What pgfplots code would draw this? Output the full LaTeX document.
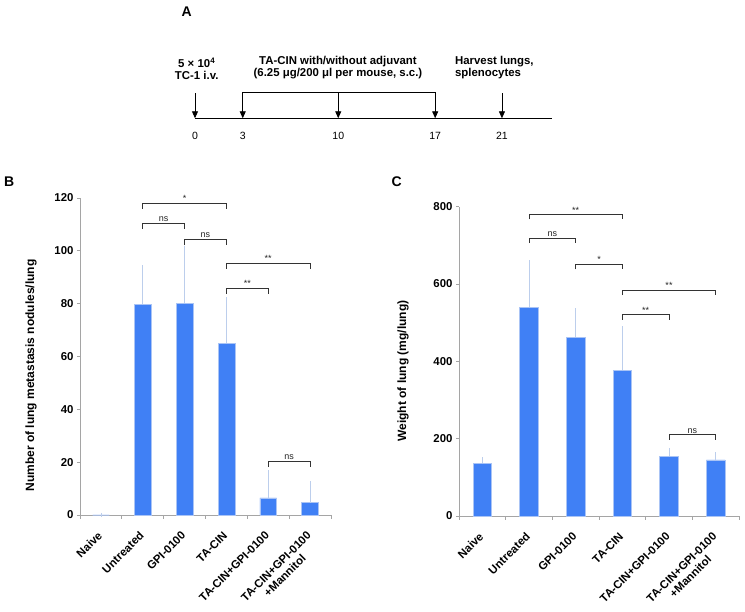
\documentclass[border=0pt]{standalone}
\usepackage{pgfplots}
\pgfplotsset{compat=1.18}
\usepackage{pgfplotstable}
\usepackage{fontspec}
\setmainfont{Liberation Sans}
\usetikzlibrary{arrows.meta}

\definecolor{barblue}{RGB}{64,128,245}
\definecolor{baredge}{RGB}{170,196,245}
\definecolor{errblue}{RGB}{188,206,236}
\definecolor{axisgray}{RGB}{165,165,165}

\newcommand{\tickfont}{\fontsize{11.4}{12.5}\selectfont\bfseries}
\newcommand{\sigfont}{\fontsize{9}{10}\selectfont}

% bracket: x1, x2, xmid, top, foot, label
\newcommand{\sigbar}[6]{%
  \draw[black!80, line width=0.7pt] (axis cs:#1,#5) -- (axis cs:#1,#4) -- (axis cs:#2,#4) -- (axis cs:#2,#5);
  \node[anchor=south, inner sep=1.2pt, font=\sigfont, black!85] at (axis cs:#3,#4) {#6};}

% panel B: lung metastasis nodules
\pgfplotstableread{
x y err
0 0 0
1 79.8 13.9
2 80.2 21.0
3 65.0 16.7
4 6.5 9.7
5 4.7 7.3
}\dataB

% panel C: lung weight
\pgfplotstableread{
x y err
0 136 11
1 540 116
2 462 70
3 377 109
4 155 16
5 145 15
}\dataC

\pgfplotsset{
  barchart/.style={
    scale only axis,
    clip=false,
    xmin=-0.5, xmax=5.5, ymin=0,
    axis x line=bottom, axis y line=left,
    axis line style={-, axisgray, line width=0.7pt},
    xtick={0,...,5},
    xticklabels={Naive, Untreated, GPI-0100, TA-CIN, TA-CIN+GPI-0100, {TA-CIN+GPI-0100\\+Mannitol}},
    minor xtick={-0.5,0.5,...,5.5},
    major x tick style={draw=none},
    minor x tick style={axisgray, line width=0.7pt},
    y tick style={axisgray, line width=0.7pt},
    tick align=outside,
    major tick length=3pt,
    minor tick length=4pt,
    xticklabel style={xshift=-4pt, yshift=-11pt, rotate=45, anchor=north east, align=center, font=\tickfont, inner sep=1pt},
    yticklabel style={font=\tickfont},
    /pgf/number format/assume math mode=true,
    ylabel style={font=\fontsize{12}{13}\selectfont\bfseries, anchor=center},
    ybar, bar width=0.4,
  },
  barplot/.style={
    fill=barblue, draw=baredge, line width=0.5pt,
    error bars/.cd, y dir=plus, y explicit,
    error bar style={errblue, line width=0.8pt},
    error mark options={errblue, line width=0.8pt, mark size=2pt},
  },
}

\begin{document}
\begin{tikzpicture}
\path[use as bounding box] (0pt,0pt) rectangle (745pt,612pt);

% panel letters
\node[font=\fontsize{14}{14}\selectfont\bfseries] at (186.7pt,600.3pt) {A};
\node[font=\fontsize{14}{14}\selectfont\bfseries] at (9.3pt,430.3pt) {B};
\node[font=\fontsize{14}{14}\selectfont\bfseries] at (396.7pt,430.3pt) {C};

% panel A: schedule
\begin{axis}[
  at={(195pt,493.7pt)}, anchor=south west,
  scale only axis, width=356.7pt, height=50pt,
  xmin=0, xmax=24.95, ymin=0, ymax=2,
  clip=false,
  axis x line=bottom, axis y line=none,
  axis line style={-, black, line width=0.9pt},
  xtick={0,3.34,10.02,16.8,21.47},
  xticklabels={0,3,10,17,21},
  major tick length=0pt,
  xticklabel style={font=\fontsize{10.5}{12}\selectfont, yshift=-10pt},
]
\draw[line width=0.9pt] (axis cs:3.34,1.04) -- (axis cs:16.8,1.04);
\foreach \dd/\tt in {0/1, 3.34/1.04, 10.02/1.04, 16.8/1.04, 21.47/1}{
  \edef\temp{\noexpand\draw[line width=0.9pt, -{Triangle[width=6pt,length=7pt]}] (axis cs:\dd,\tt) -- (axis cs:\dd,0);}
  \temp}
\node[align=center, font=\fontsize{11.4}{12}\selectfont\bfseries] at (axis cs:0.12,1.99) {5 × 10\textsuperscript{4}\\TC-1 i.v.};
\node[align=center, font=\fontsize{11.4}{12}\selectfont\bfseries] at (axis cs:10.0,2.03) {TA-CIN with/without adjuvant\\(6.25 μg/200 μl per mouse, s.c.)};
\node[align=left, anchor=west, inner sep=0pt, font=\fontsize{11.4}{12}\selectfont\bfseries] at (axis cs:18.18,2.03) {Harvest lungs,\\splenocytes};
\end{axis}

% panel B
\begin{axis}[
  barchart,
  at={(80pt,97pt)}, anchor=south west,
  width=251pt, height=317pt,
  ymax=120, ytick={0,20,...,120},
  ylabel={Number of lung metastasis nodules/lung},
  ylabel style={at={(axis description cs:-0.195,0.44)}},
]
\addplot[barplot] table[x=x, y=y, y error=err] {\dataB};
\sigbar{1}{3}{2}{118}{116}{*}
\sigbar{1}{2}{1.5}{110.5}{108.3}{ns}
\sigbar{2}{3}{2.5}{104.3}{102.1}{ns}
\sigbar{3}{5}{4}{95.4}{93.2}{**}
\sigbar{3}{4}{3.5}{85.9}{83.7}{**}
\sigbar{4}{5}{4.5}{20.3}{18.1}{ns}
\end{axis}

% panel C
\begin{axis}[
  barchart,
  at={(459pt,96pt)}, anchor=south west,
  width=280pt, height=309.3pt,
  ymax=800, ytick={0,200,...,800},
  ylabel={Weight of lung (mg/lung)},
  ylabel style={at={(axis description cs:-0.2,0.469)}},
]
\addplot[barplot] table[x=x, y=y, y error=err] {\dataC};
\sigbar{1}{3}{2}{780}{767}{**}
\sigbar{1}{2}{1.5}{719}{706}{ns}
\sigbar{2}{3}{2.5}{651}{638}{*}
\sigbar{3}{5}{4}{584}{571}{**}
\sigbar{3}{4}{3.5}{521}{508}{**}
\sigbar{4}{5}{4.5}{210}{197}{ns}
\end{axis}
\end{tikzpicture}
\end{document}
